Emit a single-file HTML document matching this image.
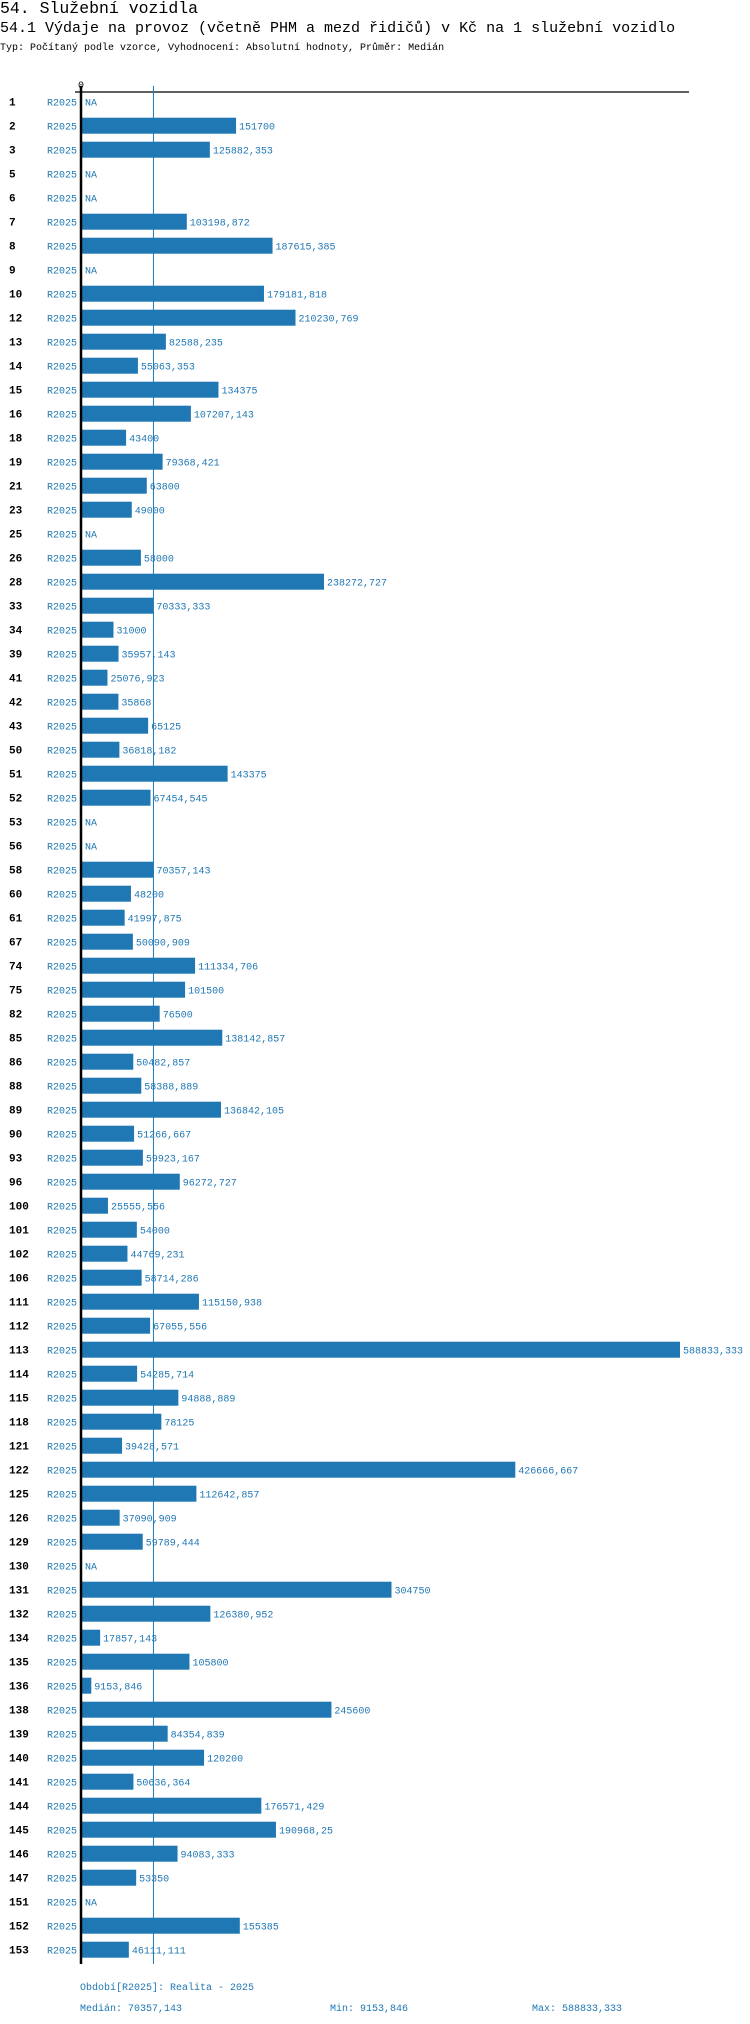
<!DOCTYPE html>
<html><head><meta charset="utf-8"><style>
body{margin:0;background:#fff;width:750px;height:2024px;overflow:hidden;font-family:"Liberation Mono","DejaVu Sans Mono",monospace;}
.t{position:absolute;white-space:nowrap;color:#000}
</style></head><body>
<div class="t" style="left:0;top:-1px;font-size:16.5px">54. Služební vozidla</div>
<div class="t" style="left:0;top:20px;font-size:15px">54.1 Výdaje na provoz (včetně PHM a mezd řidičů) v Kč na 1 služební vozidlo</div>
<div class="t" style="left:0;top:43px;font-size:10px">Typ: Počítaný podle vzorce, Vyhodnocení: Absolutní hodnoty, Průměr: Medián</div>
<svg id="chart" width="750" height="2024" style="position:absolute;left:0;top:0;font-family:'Liberation Mono',monospace"></svg>
<script>
const categories=["1","2","3","5","6","7","8","9","10","12","13","14","15","16","18","19","21","23","25","26","28","33","34","39","41","42","43","50","51","52","53","56","58","60","61","67","74","75","82","85","86","88","89","90","93","96","100","101","102","106","111","112","113","114","115","118","121","122","125","126","129","130","131","132","134","135","136","138","139","140","141","144","145","146","147","151","152","153"];
const values=[null,151700,125882.353,null,null,103198.872,187615.385,null,179181.818,210230.769,82588.235,55063.353,134375,107207.143,43400,79368.421,63800,49000,null,58000,238272.727,70333.333,31000,35957.143,25076.923,35868,65125,36818.182,143375,67454.545,null,null,70357.143,48200,41997.875,50090.909,111334.706,101500,76500,138142.857,50482.857,58388.889,136842.105,51266.667,59923.167,96272.727,25555.556,54000,44769.231,58714.286,115150.938,67055.556,588833.333,54285.714,94888.889,78125,39428.571,426666.667,112642.857,37090.909,59789.444,null,304750,126380.952,17857.143,105800,9153.846,245600,84354.839,120200,50636.364,176571.429,190968.25,94083.333,53350,null,155385,46111.111];
const valueLabels=["NA","151700","125882,353","NA","NA","103198,872","187615,385","NA","179181,818","210230,769","82588,235","55063,353","134375","107207,143","43400","79368,421","63800","49000","NA","58000","238272,727","70333,333","31000","35957,143","25076,923","35868","65125","36818,182","143375","67454,545","NA","NA","70357,143","48200","41997,875","50090,909","111334,706","101500","76500","138142,857","50482,857","58388,889","136842,105","51266,667","59923,167","96272,727","25555,556","54000","44769,231","58714,286","115150,938","67055,556","588833,333","54285,714","94888,889","78125","39428,571","426666,667","112642,857","37090,909","59789,444","NA","304750","126380,952","17857,143","105800","9153,846","245600","84354,839","120200","50636,364","176571,429","190968,25","94083,333","53350","NA","155385","46111,111"];
const median=70357.143;
const footerLabels=["Období[R2025]: Realita - 2025","Medián: 70357,143","Min: 9153,846","Max: 588833,333"];
const svg=document.getElementById('chart');
const NS='http://www.w3.org/2000/svg';
const x0=82, kx=598/588833.333;
const xs=v=>x0+v*kx;
const ys=i=>101.7+i*24;
function mk(tag,attrs,txt){const e=document.createElementNS(NS,tag);for(const k in attrs)e.setAttribute(k,attrs[k]);if(txt!==undefined)e.textContent=txt;svg.appendChild(e);return e;}
let e;
e=mk('text',{x:81,y:88,'font-size':10,'text-anchor':'middle',fill:'#000'},'0');


e=mk('line',{x1:75,y1:92,x2:689,y2:92,stroke:'#000','stroke-width':1.2});


e=mk('line',{x1:xs(median),y1:86,x2:xs(median),y2:1964,stroke:'#1f77b4','stroke-width':1});


categories.forEach((c,i)=>{
  const y=ys(i);
  let t=mk('text',{x:9,y:y+4,'font-size':11,'font-weight':'bold',fill:'#000'},c);
  
  
  t=mk('text',{x:77,y:y+4,'font-size':10,'text-anchor':'end',fill:'#1f77b4'},'R2025');
  
  
  const v=values[i];
  let end=x0;
  if(v!==null){
    const b=mk('rect',{x:x0,y:y-8,width:xs(v)-x0,height:16,fill:'#1f77b4'});
    
    
    end=xs(v);
  }
  t=mk('text',{x:end+3,y:y+4,'font-size':10,fill:'#1f77b4'},valueLabels[i]);
  
  
});
e=mk('line',{x1:81,y1:86,x2:81,y2:1964,stroke:'#000','stroke-width':2.5});


const fpos=[[80,1990],[80,2011],[330,2011],[532,2011]];
footerLabels.forEach((s,i)=>{
  const t=mk('text',{x:fpos[i][0],y:fpos[i][1],'font-size':10,fill:'#1f77b4'},s);
  
  
});
</script>
</body></html>
